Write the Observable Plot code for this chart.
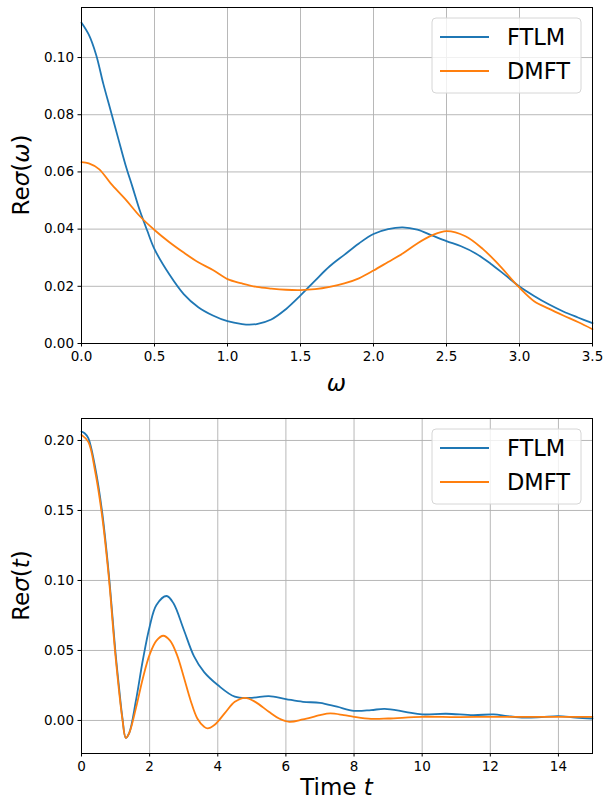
<!DOCTYPE html>
<html>
<head>
<meta charset="utf-8">
<script src="https://cdn.jsdelivr.net/npm/d3@7"></script>
<script src="https://cdn.jsdelivr.net/npm/@observablehq/plot@0.6"></script>
<style>
  html, body { margin: 0; padding: 0; background: #fff; }
  #chart { width: 606px; height: 801px; }
  #chart svg { display: block; }
</style>
</head>
<body>
<div id="chart"></div>
<script>
// ---- Top panel: Re sigma(omega) ----
const omegaFTLM = [0, 0.05, 0.1, 0.15, 0.2, 0.25, 0.3, 0.35, 0.4, 0.45, 0.5, 0.6, 0.7, 0.8, 0.9, 1.0, 1.1, 1.15, 1.2, 1.3, 1.4, 1.5, 1.6, 1.7, 1.8, 1.9, 2.0, 2.1, 2.2, 2.3, 2.4, 2.5, 2.6, 2.7, 2.8, 2.9, 3.0, 3.1, 3.2, 3.3, 3.4, 3.5];
const sigmaFTLM = [0.1122, 0.108, 0.101, 0.0907, 0.0814, 0.072, 0.0627, 0.0546, 0.0464, 0.0395, 0.033, 0.0243, 0.0173, 0.0127, 0.0098, 0.0078, 0.0068, 0.0066, 0.0068, 0.0084, 0.0120, 0.0168, 0.022, 0.027, 0.031, 0.035, 0.0383, 0.0400, 0.0406, 0.0398, 0.0378, 0.0358, 0.034, 0.0315, 0.028, 0.024, 0.0199, 0.0166, 0.0137, 0.0112, 0.0091, 0.0071];
const omegaDMFT = [0, 0.05, 0.12, 0.2, 0.3, 0.4, 0.5, 0.6, 0.7, 0.8, 0.9, 1.0, 1.1, 1.2, 1.3, 1.4, 1.5, 1.6, 1.7, 1.8, 1.9, 2.0, 2.1, 2.2, 2.3, 2.4, 2.5, 2.63, 2.75, 2.85, 3.0, 3.1, 3.2, 3.3, 3.4, 3.5];
const sigmaDMFT = [0.0634, 0.063, 0.061, 0.056, 0.0505, 0.0445, 0.0397, 0.0355, 0.0318, 0.0284, 0.0257, 0.0225, 0.021, 0.0198, 0.0192, 0.0188, 0.0187, 0.019, 0.0198, 0.021, 0.0228, 0.0255, 0.0285, 0.0315, 0.035, 0.0378, 0.0393, 0.0375, 0.033, 0.028, 0.0195, 0.0148, 0.0122, 0.0098, 0.0075, 0.005];
const omegaTicks = [0, 0.5, 1.0, 1.5, 2.0, 2.5, 3.0, 3.5];
const sigmaOmegaTicks = [0, 0.02, 0.04, 0.06, 0.08, 0.10];

// ---- Bottom panel: Re sigma(t) ----
const tFTLM = [0, 0.1, 0.2, 0.4, 0.6, 0.8, 1.0, 1.1, 1.2, 1.3, 1.4, 1.6, 1.8, 2.0, 2.2, 2.5, 2.7, 3.0, 3.3, 3.6, 4.0, 4.5, 5.0, 5.5, 6.0, 6.5, 7.0, 7.5, 8.0, 8.5, 8.9, 9.5, 10.0, 10.7, 11.5, 12.1, 12.5, 13.0, 13.5, 14.0, 14.5, 15.0];
const sigmaTFTLM = [0.2064, 0.205, 0.2017, 0.181, 0.150, 0.105, 0.048, 0.024, 0.002, -0.0124, -0.009, 0.0145, 0.043, 0.067, 0.0825, 0.0889, 0.0837, 0.0650, 0.0460, 0.0345, 0.0253, 0.017, 0.0162, 0.0174, 0.0153, 0.0133, 0.0126, 0.0098, 0.0069, 0.0074, 0.0083, 0.0062, 0.0043, 0.0048, 0.0038, 0.0043, 0.0031, 0.002, 0.0024, 0.0031, 0.0021, 0.0014];
const tDMFT = [0, 0.2, 0.4, 0.6, 0.8, 1.0, 1.2, 1.3, 1.4, 1.6, 1.8, 2.0, 2.2, 2.4, 2.6, 2.8, 3.0, 3.2, 3.4, 3.6, 3.7, 3.9, 4.2, 4.5, 4.8, 5.1, 5.5, 5.8, 6.1, 6.5, 7.0, 7.3, 7.7, 8.0, 8.5, 9.0, 10, 11, 12, 13, 14, 15];
const sigmaTDMFT = [0.204, 0.199, 0.178, 0.147, 0.1027, 0.0455, 0.001, -0.0124, -0.009, 0.009, 0.030, 0.047, 0.057, 0.0605, 0.057, 0.047, 0.0312, 0.0145, 0.0014, -0.0045, -0.0057, -0.0033, 0.005, 0.0133, 0.0162, 0.0133, 0.0062, 0.0014, -0.001, 0.0007, 0.0038, 0.005, 0.0038, 0.0026, 0.0012, 0.0014, 0.0026, 0.0024, 0.0026, 0.0026, 0.0026, 0.0026];
const timeTicks = [0, 2, 4, 6, 8, 10, 12, 14];
const sigmaTimeTicks = [0, 0.05, 0.10, 0.15, 0.20];

const seriesNames = ["FTLM", "DMFT"];
const seriesColors = ["#1f77b4", "#ff7f0e"];

const FONT = "DejaVu Sans, sans-serif";

function rows(xs, ys) { return xs.map((x, i) => ({x, y: ys[i]})); }

function panel({width, height, margins, xDomain, yDomain, xTicks, yTicks, xFmt, yFmt, series}) {
  const marks = [
    Plot.gridX(xTicks, {stroke: "#b0b0b0", strokeOpacity: 1, strokeWidth: 0.9}),
    Plot.gridY(yTicks, {stroke: "#b0b0b0", strokeOpacity: 1, strokeWidth: 0.9}),
    ...series.map((s, i) => Plot.line(rows(s.x, s.y), {x: "x", y: "y", stroke: seriesColors[i], strokeWidth: 1.8, curve: "catmull-rom"})),
    Plot.frame({stroke: "black", strokeWidth: 1}),
    Plot.axisX(xTicks, {tickFormat: xFmt, tickSize: 3.5, tickPadding: 4, fontSize: 13.5, label: null, stroke: "black"}),
    Plot.axisY(yTicks, {tickFormat: yFmt, tickSize: 3.5, tickPadding: 4, fontSize: 13.5, label: null, stroke: "black"})
  ];
  return Plot.plot({
    width, height,
    marginLeft: margins[0], marginRight: margins[1], marginTop: margins[2], marginBottom: margins[3],
    style: {fontFamily: FONT, color: "black", background: "white", overflow: "visible"},
    x: {domain: xDomain},
    y: {domain: yDomain},
    marks
  });
}

function addLabels(svg, {xLabel, yLabel, xLabelY, yLabelX, plotLeft, plotRight, plotTop, plotBottom, legendBox}) {
  const s = d3.select(svg);
  const xl = s.append("text")
    .attr("x", (plotLeft + plotRight) / 2).attr("y", xLabelY)
    .attr("text-anchor", "middle").attr("font-family", FONT).attr("font-size", 23).attr("fill", "black");
  xLabel.forEach(p => xl.append("tspan").attr("font-style", p.i ? "italic" : "normal").text(p.t));
  const cy = (plotTop + plotBottom) / 2;
  const yl = s.append("text")
    .attr("transform", `translate(${yLabelX},${cy}) rotate(-90)`)
    .attr("text-anchor", "middle").attr("font-family", FONT).attr("font-size", 23).attr("fill", "black");
  yLabel.forEach(p => yl.append("tspan").attr("font-style", p.i ? "italic" : "normal").text(p.t));
  const [lx, ly, lw, lh, r1, r2] = legendBox;
  const g = s.append("g");
  g.append("rect").attr("x", lx).attr("y", ly).attr("width", lw).attr("height", lh)
    .attr("rx", 4).attr("fill", "white").attr("fill-opacity", 0.8).attr("stroke", "#d6d6d6").attr("stroke-width", 1);
  [r1, r2].forEach((ry, i) => {
    g.append("line").attr("x1", lx + 8).attr("x2", lx + 57).attr("y1", ry).attr("y2", ry)
      .attr("stroke", seriesColors[i]).attr("stroke-width", 1.8);
    g.append("text").attr("x", lx + 75).attr("y", ry).attr("dy", "0.36em")
      .attr("text-anchor", "start")
      .attr("font-family", FONT).attr("font-size", 22.5).attr("fill", "black").text(seriesNames[i]);
  });
}

const container = document.getElementById("chart");

const topPanel = panel({
  width: 606, height: 400, margins: [81, 14, 7, 57],
  xDomain: [0, 3.5], yDomain: [0, 0.1175],
  xTicks: omegaTicks, yTicks: sigmaOmegaTicks,
  xFmt: d3.format(".1f"), yFmt: d3.format(".2f"),
  series: [{x: omegaFTLM, y: sigmaFTLM}, {x: omegaDMFT, y: sigmaDMFT}]
});
addLabels(topPanel, {
  xLabel: [{t: "ω", i: true}], yLabel: [{t: "Re"}, {t: "σ", i: true}, {t: "("}, {t: "ω", i: true}, {t: ")"}],
  xLabelY: 391, yLabelX: 29, plotLeft: 81, plotRight: 592, plotTop: 7, plotBottom: 343,
  legendBox: [432, 18, 149, 75, 37, 71]
});
container.appendChild(topPanel);

const bottomPanel = panel({
  width: 606, height: 401, margins: [81, 14, 18, 48],
  xDomain: [0, 15], yDomain: [-0.0236, 0.2157],
  xTicks: timeTicks, yTicks: sigmaTimeTicks,
  xFmt: d3.format("d"), yFmt: d3.format(".2f"),
  series: [{x: tFTLM, y: sigmaTFTLM}, {x: tDMFT, y: sigmaTDMFT}]
});
addLabels(bottomPanel, {
  xLabel: [{t: "Time "}, {t: "t", i: true}], yLabel: [{t: "Re"}, {t: "σ", i: true}, {t: "("}, {t: "t", i: true}, {t: ")"}],
  xLabelY: 395, yLabelX: 29, plotLeft: 81, plotRight: 592, plotTop: 18, plotBottom: 353,
  legendBox: [432, 29, 149, 75, 48, 82]
});
container.appendChild(bottomPanel);
</script>
</body>
</html>
